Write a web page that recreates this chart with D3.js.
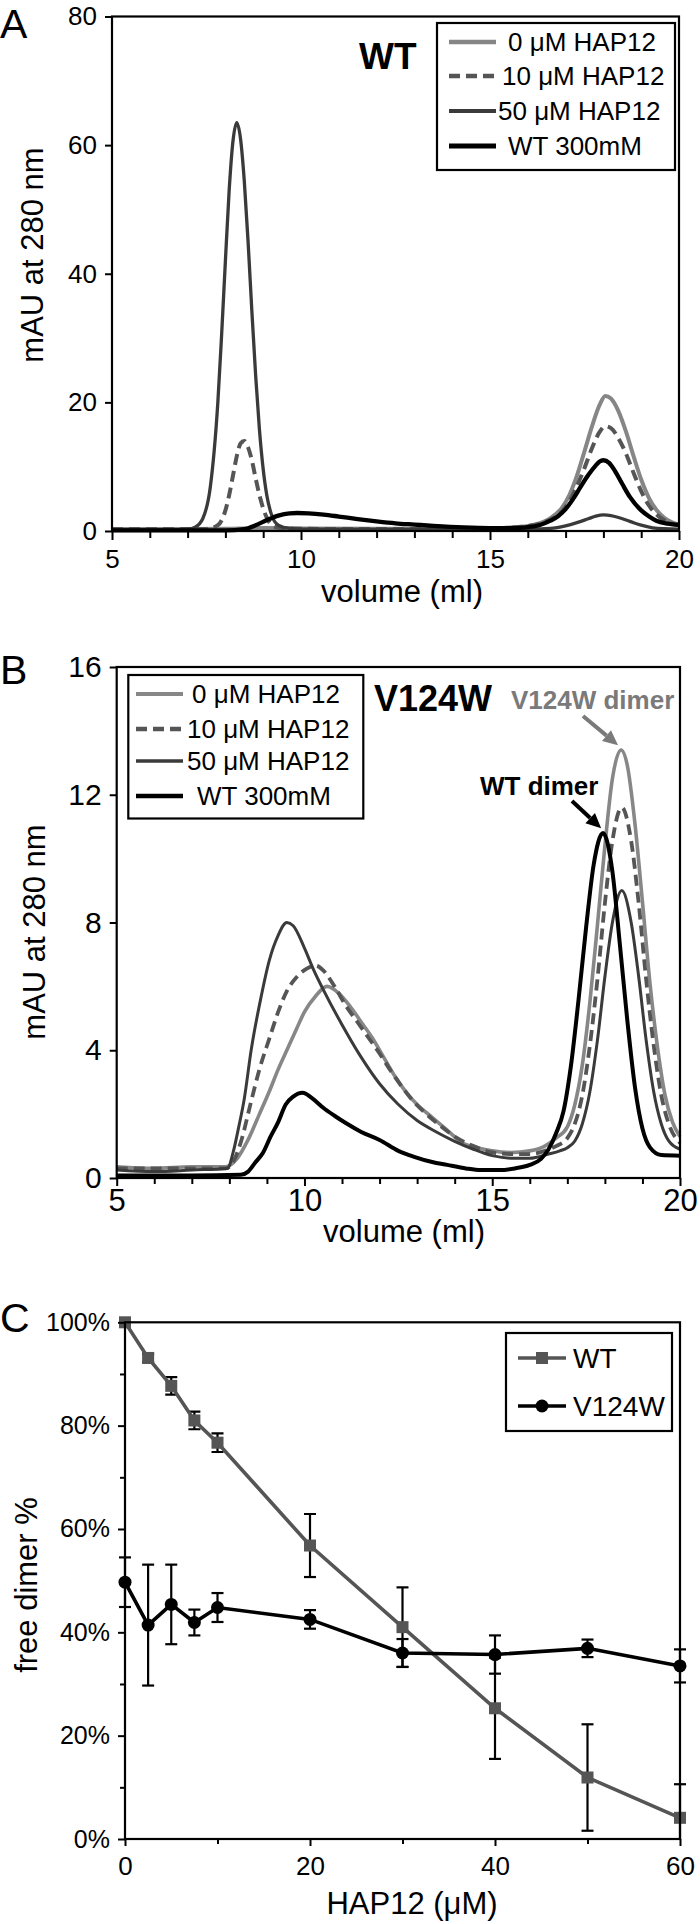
<!DOCTYPE html>
<html><head><meta charset="utf-8">
<script src="https://cdn.jsdelivr.net/npm/d3@7/dist/d3.min.js"></script>
<style>
html,body{margin:0;padding:0;background:#fff;}
svg{display:block;font-family:"Liberation Sans",Arial,sans-serif;}
</style></head>
<body>
<svg id="chart" width="700" height="1924"></svg>
<script>
// ---------- DATA ----------
const volumeTicks = [5, 10, 15, 20];
const volumeMinor = [6,7,8,9,11,12,13,14,16,17,18,19];
const mauTicksA = [0, 20, 40, 60, 80];
const mauTicksB = [0, 4, 8, 12, 16];
const hapTicks = [0, 20, 40, 60];
const hapMinor = [10, 30, 50];
const pctTicks = [0, 20, 40, 60, 80, 100];
const pctMinor = [10, 30, 50, 70, 90];
const seriesLabels = ["0 μM HAP12", "10 μM HAP12", "50 μM HAP12", "WT 300mM"];

// Panel A (WT)
const aVol0  = [5,7,8,9,10,12,14,15,15.5,16,16.3,16.6,16.9,17.1,17.3,17.5,17.7,17.9,18.05,18.2,18.4,18.6,18.8,19.0,19.2,19.4,19.6,19.8,20];
const aMau0  = [0.3,0.3,0.35,0.45,0.4,0.35,0.35,0.4,0.55,0.8,1.2,2.0,3.6,5.6,8.6,12.4,16.3,19.6,21.0,20.6,18.6,15.4,11.6,8.0,5.2,3.3,2.1,1.4,1.0];
const aVol10 = [5,7.5,7.8,8.0,8.1,8.2,8.3,8.4,8.5,8.6,8.7,8.8,8.9,9.0,9.1,9.2,9.4,10,12,14,15,15.5,16,16.3,16.6,16.9,17.1,17.3,17.5,17.7,17.9,18.05,18.2,18.4,18.6,18.8,19.0,19.2,19.4,19.6,19.8,20];
const aMau10 = [0.3,0.3,0.9,3.2,5.6,8.6,11.6,13.6,14.0,13.0,11.0,8.2,5.6,3.5,2.0,1.1,0.5,0.35,0.3,0.3,0.35,0.5,0.75,1.1,1.8,3.0,4.6,7.0,9.8,12.9,15.4,16.3,16.0,14.4,12.0,9.0,6.2,4.0,2.6,1.7,1.2,0.9];
const aVol50 = [5,6.5,7.0,7.2,7.4,7.6,7.8,7.9,8.0,8.1,8.2,8.3,8.4,8.5,8.6,8.7,8.8,8.9,9.0,9.1,9.2,9.4,9.7,10,12,14,16,16.6,17.0,17.3,17.6,17.8,18.0,18.2,18.4,18.7,19.0,19.3,19.6,20];
const aMau50 = [0.2,0.2,0.3,0.6,1.9,6.8,20,30.5,42,53,60.6,63.5,61,54.4,45,34.2,24.2,15.8,9.6,5.4,2.9,0.9,0.4,0.3,0.25,0.25,0.3,0.4,0.8,1.3,1.9,2.3,2.5,2.4,2.1,1.5,0.9,0.5,0.35,0.3];
const aVolWT = [5,8.0,8.5,8.8,9.1,9.4,9.7,9.9,10.2,10.6,11.0,11.5,12.0,12.5,13.0,13.5,14.3,15.0,15.6,16.0,16.3,16.6,16.8,17.0,17.2,17.4,17.6,17.8,17.9,18.0,18.15,18.3,18.5,18.7,19.0,19.2,19.4,19.7,20];
const aMauWT = [0.1,0.1,0.3,0.9,1.7,2.4,2.75,2.8,2.75,2.55,2.25,1.85,1.5,1.2,1.0,0.8,0.55,0.45,0.45,0.6,0.9,1.6,2.3,3.4,5.0,6.9,8.7,10.2,10.8,11.0,10.6,9.4,7.3,5.3,3.2,2.3,1.6,1.15,0.95];

// Panel B (V124W)
const bVol0  = [5,6,7,7.9,8.2,8.5,8.8,9.06,9.3,9.53,9.8,10.0,10.3,10.6,10.9,11.2,11.5,11.8,12.1,12.4,12.7,13.0,13.4,13.8,14.2,14.6,15.0,15.5,16.0,16.4,16.7,17.0,17.2,17.4,17.6,17.8,18.0,18.2,18.43,18.6,18.8,19.0,19.2,19.4,19.6,19.8,20];
const bMau0  = [0.35,0.3,0.35,0.35,0.6,1.2,2.0,2.7,3.4,4.0,4.7,5.2,5.7,6.0,5.8,5.4,4.9,4.4,3.8,3.2,2.7,2.3,1.9,1.5,1.1,0.95,0.85,0.8,0.85,1.0,1.25,1.6,2.3,3.55,5.5,7.9,10.4,12.5,13.4,12.9,11.1,8.65,6.1,4.1,2.6,1.75,1.3];
const bVol10 = [5,6,7,7.9,8.1,8.3,8.58,8.8,9.06,9.3,9.53,9.8,10.05,10.3,10.5,10.8,11.1,11.4,11.7,12.0,12.3,12.6,12.9,13.2,13.6,14.0,14.5,15.0,15.5,16.0,16.4,16.7,17.0,17.2,17.4,17.6,17.8,18.0,18.2,18.45,18.7,18.9,19.1,19.3,19.5,19.7,20];
const bMau10 = [0.3,0.3,0.3,0.3,0.5,1.1,2.4,3.4,4.35,5.2,5.85,6.3,6.55,6.65,6.5,6.0,5.4,4.9,4.4,3.9,3.35,2.85,2.4,2.05,1.65,1.3,1.0,0.8,0.75,0.75,0.85,1.0,1.25,1.7,2.6,4.15,6.2,8.6,10.55,11.6,10.55,8.6,6.2,4.15,2.6,1.7,1.1];
const bVol50 = [5,6,7,7.95,8.1,8.25,8.4,8.58,8.85,9.06,9.3,9.53,9.7,10.0,10.25,10.5,11.0,11.5,12.0,12.5,13.0,13.5,14.0,14.5,15.0,15.5,16.0,16.5,16.8,17.0,17.2,17.4,17.6,17.8,18.0,18.2,18.45,18.7,18.9,19.1,19.3,19.5,19.7,20];
const bMau50 = [0.25,0.2,0.25,0.3,0.8,1.6,2.5,4.0,5.7,6.8,7.6,8.0,7.9,7.2,6.5,5.9,4.8,3.8,2.95,2.3,1.8,1.45,1.15,0.9,0.7,0.62,0.62,0.75,0.85,0.95,1.16,1.7,2.7,4.3,6.3,8.0,9.0,8.0,6.3,4.3,2.7,1.7,1.16,0.9];
const bVolWT = [5,7,8.3,8.5,8.7,8.9,9.1,9.3,9.5,9.7,9.95,10.2,10.5,10.8,11.1,11.5,12.0,12.5,12.9,13.4,13.8,14.3,14.7,15.2,15.6,16.0,16.3,16.5,16.7,16.9,17.1,17.3,17.5,17.7,17.95,18.2,18.4,18.6,18.8,19.0,19.2,19.5,20];
const bMauWT = [0.08,0.08,0.1,0.2,0.5,0.8,1.3,1.75,2.3,2.55,2.67,2.5,2.2,1.95,1.72,1.45,1.19,0.85,0.67,0.5,0.41,0.3,0.25,0.25,0.3,0.41,0.6,0.9,1.4,2.1,3.55,5.6,7.85,9.8,10.8,9.6,7.3,4.9,2.85,1.55,0.96,0.72,0.7];

// Panel C (free dimer %)
const hapConc  = [0, 2.5, 5, 7.5, 10, 20, 30, 40, 50, 60];
const wtFree   = [100, 93.1, 87.7, 81.0, 76.7, 56.8, 41.0, 25.3, 11.9, 4.1];
const wtErr    = [0, 0.8, 1.7, 1.7, 1.8, 6.1, 7.7, 9.8, 10.3, 6.5];
const mutFree  = [49.7, 41.4, 45.4, 41.9, 44.8, 42.5, 36.0, 35.7, 36.9, 33.5];
const mutErr   = [4.8, 11.7, 7.7, 2.5, 2.8, 1.8, 2.7, 3.7, 1.7, 3.2];
const cLegend  = ["WT", "V124W"];

// ---------- STYLES ----------
const styleAB = [
  {color:"#868686", width:4, dash:null},
  {color:"#555555", width:4, dash:"11,6"},
  {color:"#3a3a3a", width:3.3, dash:null},
  {color:"#000000", width:4.3, dash:null}
];
const FONT = '"Liberation Sans", Arial, sans-serif';
const svg = d3.select("#chart");

function zip(xs, ys){ return xs.map((x,i)=>[x, ys[i]]); }

function drawChrom(cfg){
  const x = d3.scaleLinear().domain([5,20]).range([cfg.left, cfg.right]);
  const y = d3.scaleLinear().domain(cfg.yDomain).range([cfg.bottom, cfg.top]);
  const g = svg.append("g");
  const line = d3.line().x(d=>x(d[0])).y(d=>y(d[1])).curve(d3.curveMonotoneX);
  cfg.series.forEach((s,i)=>{
    const st = cfg.styles[i];
    g.append("path").datum(zip(s[0], s[1]))
      .attr("d", line).attr("fill","none")
      .attr("stroke", st.color).attr("stroke-width", st.width)
      .attr("stroke-linejoin","round")
      .attr("stroke-dasharray", st.dash);
  });
  g.append("rect").attr("x",cfg.left).attr("y",cfg.top)
    .attr("width",cfg.right-cfg.left).attr("height",cfg.bottom-cfg.top)
    .attr("fill","none").attr("stroke","#000").attr("stroke-width",2.2);
  const xa = g.append("g").attr("transform",`translate(0,${cfg.bottom})`)
    .call(d3.axisBottom(x).tickValues(volumeTicks).tickSize(cfg.xMajor).tickPadding(cfg.xPad).tickFormat(d3.format("d")));
  const xm = g.append("g").attr("transform",`translate(0,${cfg.bottom})`)
    .call(d3.axisBottom(x).tickValues(volumeMinor).tickSize(cfg.xMinor).tickFormat(""));
  const ya = g.append("g").attr("transform",`translate(${cfg.left},0)`)
    .call(d3.axisLeft(y).tickValues(cfg.yTicks).tickSize(7).tickPadding(8).tickFormat(d3.format("d")));
  [xa,xm,ya].forEach(a=>{
    a.select(".domain").remove();
    a.selectAll("line").attr("stroke","#000").attr("stroke-width",2);
    a.selectAll("text").attr("font-family",FONT).attr("fill","#000");
  });
  xa.selectAll("text").attr("font-size",cfg.xFont);
  ya.selectAll("text").attr("font-size",cfg.yFont);
  g.append("text").attr("x",cfg.xLabelX).attr("y",cfg.xLabelY).attr("text-anchor","middle")
    .attr("font-size",31).attr("font-family",FONT).text("volume (ml)");
  g.append("text").attr("transform",`translate(${cfg.yLabelX},${cfg.yLabelY}) rotate(-90)`)
    .attr("text-anchor","middle").attr("font-size",31).attr("font-family",FONT).text("mAU at 280 nm");
  g.append("text").attr("x",cfg.letterX).attr("y",cfg.letterY).attr("font-size",41)
    .attr("font-family",FONT).text(cfg.letter);
  const L = cfg.legend;
  g.append("rect").attr("x",L.x).attr("y",L.y).attr("width",L.w).attr("height",L.h)
    .attr("fill","#fff").attr("stroke","#000").attr("stroke-width",2.2);
  seriesLabels.forEach((lab,i)=>{
    const st = cfg.styles[i];
    const ry = L.rows[i];
    g.append("line").attr("x1",L.lx1).attr("x2",L.lx2).attr("y1",ry).attr("y2",ry)
      .attr("stroke",st.color).attr("stroke-width",st.width+0.5).attr("stroke-dasharray",st.dash);
    g.append("text").attr("x",L.tx[i]).attr("y",ry).attr("dy","0.35em")
      .attr("font-size",L.font).attr("font-family",FONT).text(lab);
  });
  return {x, y, g};
}

// Panel A
const A = drawChrom({
  left:112, right:679, top:16.5, bottom:531, yDomain:[0,80], yTicks:mauTicksA,
  series:[[aVol0,aMau0],[aVol10,aMau10],[aVol50,aMau50],[aVolWT,aMauWT]],
  styles:styleAB, xMajor:9, xMinor:7, xPad:10, xFont:26, yFont:26,
  xLabelX:402, xLabelY:602, yLabelX:43, yLabelY:255, letter:"A", letterX:0, letterY:38,
  legend:{x:437, y:23, w:238, h:147, rows:[42,76,111,146], lx1:449, lx2:496, tx:[508,502,498,508], font:26}
});
A.g.append("text").attr("x",359).attr("y",69).attr("font-size",37).attr("font-weight","bold")
  .attr("font-family",FONT).text("WT");

// Panel B
const B = drawChrom({
  left:116.7, right:680, top:667, bottom:1178, yDomain:[0,16], yTicks:mauTicksB,
  series:[[bVol0,bMau0],[bVol10,bMau10],[bVol50,bMau50],[bVolWT,bMauWT]],
  styles:[
    {color:"#878787", width:3.6, dash:null},
    {color:"#555555", width:3.8, dash:"11,6"},
    {color:"#3a3a3a", width:3, dash:null},
    {color:"#000000", width:4, dash:null}
  ],
  xMajor:8, xMinor:6, xPad:3, xFont:31, yFont:30,
  xLabelX:404, xLabelY:1242, yLabelX:45, yLabelY:932, letter:"B", letterX:0, letterY:684,
  legend:{x:128.3, y:675, w:235, h:143.5, rows:[694,729,761,796], lx1:136, lx2:183, tx:[192,187,187,197], font:26}
});
B.g.append("text").attr("x",374).attr("y",711).attr("font-size",36).attr("font-weight","bold")
  .attr("font-family",FONT).text("V124W");
B.g.append("text").attr("x",511).attr("y",709).attr("font-size",26).attr("font-weight","bold")
  .attr("fill","#7a7a7a").attr("font-family",FONT).text("V124W dimer");
B.g.append("text").attr("x",480).attr("y",795).attr("font-size",26).attr("font-weight","bold")
  .attr("fill","#000").attr("font-family",FONT).text("WT dimer");

function arrow(g, x1,y1,x2,y2,color){
  const ang = Math.atan2(y2-y1,x2-x1), hl = 15, hw = 7;
  const bx = x2 - hl*Math.cos(ang), by = y2 - hl*Math.sin(ang);
  g.append("line").attr("x1",x1).attr("y1",y1).attr("x2",bx).attr("y2",by)
    .attr("stroke",color).attr("stroke-width",4);
  const px = -Math.sin(ang)*hw, py = Math.cos(ang)*hw;
  g.append("path").attr("d",`M${x2},${y2}L${bx+px},${by+py}L${bx-px},${by-py}Z`).attr("fill",color);
}
arrow(B.g, 583, 716, B.x(18.35), B.y(13.55), "#7a7a7a");
arrow(B.g, 572, 801, B.x(17.9), B.y(10.95), "#000");

// Panel C
(function(){
  const left=125, right=680, top=1322.3, bottom=1839;
  const x = d3.scaleLinear().domain([0,60]).range([left,right]);
  const y = d3.scaleLinear().domain([0,100]).range([bottom,top]);
  const g = svg.append("g");
  g.append("clipPath").attr("id","clipC").append("rect")
    .attr("x",0).attr("y",top).attr("width",700).attr("height",bottom-top);
  const plot = g.append("g").attr("clip-path","url(#clipC)");
  const wt = hapConc.map((c,i)=>({c, v:wtFree[i], e:wtErr[i]}));
  const mt = hapConc.map((c,i)=>({c, v:mutFree[i], e:mutErr[i]}));
  [wt, mt].forEach(ser=>{
    ser.filter(d=>d.e>0).forEach(d=>{
      const cx = x(d.c);
      plot.append("line").attr("x1",cx).attr("x2",cx).attr("y1",y(d.v+d.e)).attr("y2",y(d.v-d.e))
        .attr("stroke","#000").attr("stroke-width",2.2);
      [d.v+d.e, d.v-d.e].forEach(v=>{
        plot.append("line").attr("x1",cx-6).attr("x2",cx+6).attr("y1",y(v)).attr("y2",y(v))
          .attr("stroke","#000").attr("stroke-width",2.2);
      });
    });
  });
  const line = d3.line().x(d=>x(d.c)).y(d=>y(d.v));
  plot.append("path").datum(wt).attr("d",line).attr("fill","none").attr("stroke","#555").attr("stroke-width",3.6);
  plot.append("path").datum(mt).attr("d",line).attr("fill","none").attr("stroke","#000").attr("stroke-width",3.6);
  g.selectAll("rect.sq").data(wt).enter().append("rect").attr("class","sq")
    .attr("x",d=>x(d.c)-6).attr("y",d=>y(d.v)-6).attr("width",12).attr("height",12).attr("fill","#555");
  g.selectAll("circle.ci").data(mt).enter().append("circle").attr("class","ci")
    .attr("cx",d=>x(d.c)).attr("cy",d=>y(d.v)).attr("r",6.5).attr("fill","#000");
  g.append("rect").attr("x",left).attr("y",top).attr("width",right-left).attr("height",bottom-top)
    .attr("fill","none").attr("stroke","#000").attr("stroke-width",2.2);
  const xa = g.append("g").attr("transform",`translate(0,${bottom})`)
    .call(d3.axisBottom(x).tickValues(hapTicks).tickSize(7).tickPadding(11).tickFormat(d3.format("d")));
  const xm = g.append("g").attr("transform",`translate(0,${bottom})`)
    .call(d3.axisBottom(x).tickValues(hapMinor).tickSize(5).tickFormat(""));
  const ya = g.append("g").attr("transform",`translate(${left},0)`)
    .call(d3.axisLeft(y).tickValues(pctTicks).tickSize(7).tickPadding(8).tickFormat(d=>d+"%"));
  const ym = g.append("g").attr("transform",`translate(${left},0)`)
    .call(d3.axisLeft(y).tickValues(pctMinor).tickSize(5).tickFormat(""));
  [xa,xm,ya,ym].forEach(a=>{
    a.select(".domain").remove();
    a.selectAll("line").attr("stroke","#000").attr("stroke-width",2);
    a.selectAll("text").attr("font-family",FONT).attr("fill","#000").attr("font-size",26);
  });
  ya.selectAll("text").attr("font-size",25);
  g.append("text").attr("x",412).attr("y",1914).attr("text-anchor","middle")
    .attr("font-size",31).attr("font-family",FONT).text("HAP12 (μM)");
  g.append("text").attr("transform",`translate(37,1585) rotate(-90)`)
    .attr("text-anchor","middle").attr("font-size",31).attr("font-family",FONT).text("free dimer %");
  g.append("text").attr("x",0).attr("y",1332).attr("font-size",41).attr("font-family",FONT).text("C");
  g.append("rect").attr("x",506).attr("y",1333).attr("width",166).attr("height",98)
    .attr("fill","#fff").attr("stroke","#000").attr("stroke-width",2.2);
  const rows = [1358, 1406];
  cLegend.forEach((lab,i)=>{
    const col = i===0 ? "#555" : "#000";
    g.append("line").attr("x1",518).attr("x2",566).attr("y1",rows[i]).attr("y2",rows[i])
      .attr("stroke",col).attr("stroke-width",3.6);
    if(i===0) g.append("rect").attr("x",536).attr("y",rows[i]-6).attr("width",12).attr("height",12).attr("fill",col);
    else g.append("circle").attr("cx",542).attr("cy",rows[i]).attr("r",6.5).attr("fill",col);
    g.append("text").attr("x",573).attr("y",rows[i]).attr("dy","0.35em").attr("font-size",28)
      .attr("font-family",FONT).text(lab);
  });
})();
</script>
</body></html>
